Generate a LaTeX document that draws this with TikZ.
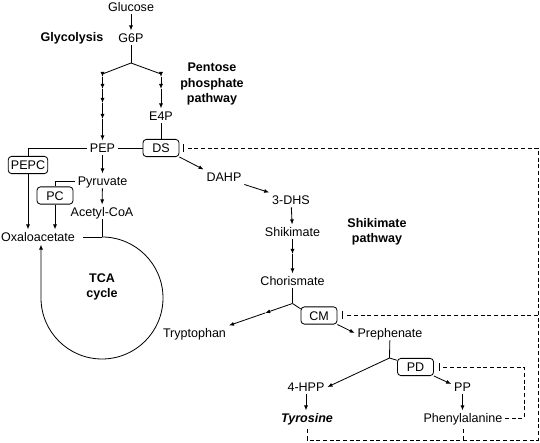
\documentclass[tikz,border=0pt]{standalone}
\usepackage{fontspec}
\setmainfont{Liberation Sans}
\usetikzlibrary{arrows.meta,calc}
\tikzset{
  met/.style={inner sep=1.9pt,text height=6.8pt,text depth=0pt},
  enz/.style={draw,rounded corners=2.5pt,inner xsep=2pt,inner ysep=0pt,minimum width=27pt,minimum height=12.9pt,text height=6.8pt,text depth=0pt},
  lbl/.style={font=\bfseries,align=center},
  arr/.style={-{Latex[length=3.8pt,width=3pt]}},
  fb/.style={line width=0.6pt,dash pattern=on 3pt off 2pt},
  inh/.style={line width=0.85pt}
}
\begin{document}
\fontsize{9.4}{11.6}\selectfont
\begin{tikzpicture}[x=0.75pt,y=0.75pt,line width=0.62pt]
\useasboundingbox (0,0) rectangle (540,443);
\node[met] (glc) at (131,436) {Glucose};
\node[met] (g6p) at (131,405) {G6P};
\node[lbl] (glyc) at (72,405) {Glycolysis};
\node[lbl] (ppp) at (212,359) {Pentose\\phosphate\\pathway};
\node[met] (pep) at (102.5,295) {PEP};
\node[met] (e4p) at (161,327) {E4P};
\node[enz] (ds) at (161,295) {DS};
\node[enz] (pepc) at (28,278) {PEPC};
\node[met] (pyr) at (102.5,262) {Pyruvate};
\node[enz] (pc) at (55,247.5) {PC};
\node[met] (acoa) at (102,231) {Acetyl-CoA};
\node[met] (oxa) at (38,206) {Oxaloacetate};
\node[lbl] (tca) at (102,156) {TCA\\cycle};
\node[met] (dahp) at (224,266) {DAHP};
\node[met] (dhs) at (291,243) {3-DHS};
\node[met] (shk) at (292.5,211) {Shikimate};
\node[met] (cho) at (292.5,162) {Chorismate};
\node[lbl] (skp) at (377,211) {Shikimate\\pathway};
\node[met] (trp) at (194.5,110) {Tryptophan};
\node[enz] (cm) at (319,127.5) {CM};
\node[met] (prep) at (390,110) {Prephenate};
\node[met] (hpp) at (306,56) {4-HPP};
\node[enz] (pd) at (415.5,76) {PD};
\node[met] (pp) at (462.5,56) {PP};
\node[met] (tyr) at (307,25) {\textbf{\textit{Tyrosine}}};
\node[met] (phe) at (463,25) {Phenylalanine};

\coordinate (br) at (131,380);
\coordinate (lt) at (102.5,369);
\coordinate (rt) at (161,369);
\foreach \n/\y in {l1/366,l2/354,l3/340,l4/324} \coordinate (\n) at (102.5,\y);
\foreach \n/\y in {r1/366,r2/354} \coordinate (\n) at (161,\y);
\draw[arr] (glc) -- (g6p);
\draw (g6p) -- (br);
\draw (lt) -- (br) -- (rt);
\foreach \a/\b in {lt/l1,l1/l2,l2/l3,l3/l4,l4/pep} \draw[arr] (\a) -- (\b);
\foreach \a/\b in {rt/r1,r1/r2,r2/e4p} \draw[arr] (\a) -- (\b);
\draw (e4p) -- (ds);
\draw (pep) -- (ds);
\draw (pep.west) -| (pepc.north);
\draw[arr] (pepc) -- (pepc |- oxa.north);
\draw[arr] (pep) -- (pyr);
\draw (pyr.west) -| (pc.north);
\draw[arr] (pc) -- (pc |- oxa.north);
\draw[arr] (pyr) -- (acoa);

\coordinate (cyctop) at (102,206);
\coordinate (cycl) at (41,145);
\draw (acoa) -- (cyctop);
\draw[shorten <=4pt] (oxa.east) -- (cyctop);
\draw[arr] (cyctop) arc[start angle=90,end angle=-180,radius=61] -- (cycl |- oxa.south);

\draw[arr] (ds.south east) -- (dahp.north west);
\draw[arr] (dahp.south east) -- (dhs.north west);
\draw[arr] (dhs) -- (shk);
\coordinate (sk1) at (292.5,189);
\draw[arr] (shk) -- (sk1);
\draw[arr] (sk1) -- (cho);
\coordinate (chbr) at (292.5,139.5);
\draw (cho) -- (chbr);
\coordinate (tr1) at ($(chbr)!0.43!(trp.north east)$);
\draw[arr] (chbr) -- (tr1);
\draw[arr] (tr1) -- (trp.north east);
\draw (chbr) -- (cm.160);
\draw[arr] (cm.south east) -- (prep.west);
\coordinate (pbr) at (389.5,85);
\draw (prep) -- (pbr);
\draw[arr] (pbr) -- (hpp.east);
\draw (pbr) -- (pd.160);
\draw[arr] (pd.south east) -- (pp.165);
\draw[arr] (hpp) -- (hpp |- tyr.north);
\draw[arr] (pp) -- (pp |- phe.north);

\coordinate (fbr) at (538,3);
\coordinate (dsbar) at ([xshift=3pt]ds.east);
\coordinate (cmbar) at ([xshift=3.5pt]cm.east);
\coordinate (pdbar) at ([xshift=4pt]pd.east);
\foreach \b in {dsbar,cmbar,pdbar} \draw[inh] ([yshift=-3pt]\b) -- ([yshift=3pt]\b);
\draw[fb,shorten <=3pt,shorten >=3pt] (tyr.south) |- (fbr) |- (dsbar);
\draw[fb,shorten <=3pt] (phe.south) -- (phe.south |- fbr);
\draw[fb,shorten >=3pt] (cmbar -| fbr) -- (cmbar);
\draw[fb,shorten <=3pt] (pdbar) -| ([xshift=14pt]phe.east) -- (phe.east);
\end{tikzpicture}
\end{document}
